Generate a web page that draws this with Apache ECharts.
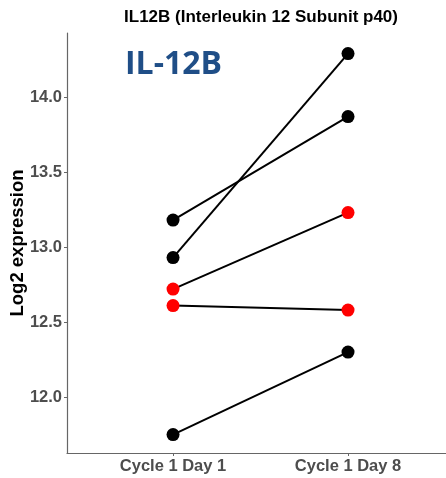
<!DOCTYPE html>
<html>
<head>
<meta charset="utf-8">
<script src="https://cdn.jsdelivr.net/npm/echarts@6/dist/echarts.min.js"></script>
<style>
  html, body { margin: 0; padding: 0; background: #fff; }
  #chart { width: 446px; height: 478px; }
</style>
</head>
<body>
<div id="chart"></div>
<script>
// time points on the x axis (plotted at positions 1 and 2)
const timepoints = ['Cycle 1 Day 1', 'Cycle 1 Day 8'];
const yTicks = [12.0, 12.5, 13.0, 13.5, 14.0];

// one pair per patient: [Day 1, Day 8]
const patientA = [13.18, 13.87];
const patientB = [12.93, 14.29];
const patientC = [12.72, 13.23];
const patientD = [12.61, 12.58];
const patientE = [11.75, 12.30];
const patients = [patientA, patientB, patientC, patientD, patientE];
const patientColors = ['#000000', '#000000', '#ff0000', '#ff0000', '#000000'];

const chart = echarts.init(document.getElementById('chart'));

const series = patients.map((vals, i) => {
    return {
        type: 'line',
        data: vals.map((v, j) => [j + 1, v]),
        symbol: 'circle',
        symbolSize: 13,
        lineStyle: { color: '#000', width: 2 },
        itemStyle: { color: patientColors[i] },
        z: 2,
        animation: false
    };
});

chart.setOption({
    animation: false,
    title: [{
        text: 'IL12B (Interleukin 12 Subunit p40)',
        left: 256,
        top: 4,
        textAlign: 'center',
        textStyle: { fontFamily: 'Liberation Sans', fontWeight: 'bold', fontSize: 17, color: '#000' }
    }, {
        text: 'IL-12B',
        left: 120,
        top: 44,
        textStyle: { fontFamily: 'Open Sans', fontWeight: 'bold', fontSize: 32, color: '#1f4e87' }
    }],
    grid: { left: 67, right: 0, top: 33, bottom: 25, outerBoundsMode: 'none', containLabel: false },
    xAxis: {
        type: 'value',
        min: 0.394,
        max: 2.56,
        splitLine: { show: false },
        axisLine: { lineStyle: { color: '#666', width: 1.2 } },
        axisTick: { length: 3, lineStyle: { color: '#666' }, customValues: [1, 2] },
        axisLabel: {
            customValues: [1, 2],
            formatter: v => timepoints[Math.round(v) - 1],
            margin: 5,
            fontFamily: 'Liberation Sans',
            fontWeight: 'bold',
            fontSize: 16.5,
            color: '#4d4d4d'
        }
    },
    yAxis: {
        type: 'value',
        min: 11.627,
        max: 14.427,
        name: 'Log2 expression',
        nameLocation: 'middle',
        nameGap: 40,
        nameMoveOverlap: false,
        nameTextStyle: { fontFamily: 'Liberation Sans', fontWeight: 'bold', fontSize: 18.5, color: '#000' },
        splitLine: { show: false },
        axisLine: { show: true, lineStyle: { color: '#666', width: 1.2 } },
        axisTick: { show: true, length: 3, lineStyle: { color: '#666' }, customValues: yTicks },
        axisLabel: {
            customValues: yTicks,
            formatter: v => v.toFixed(1),
            margin: 5,
            fontFamily: 'Liberation Sans',
            fontWeight: 'bold',
            fontSize: 16.5,
            color: '#4d4d4d'
        }
    },
    series: series
});
</script>
</body>
</html>
